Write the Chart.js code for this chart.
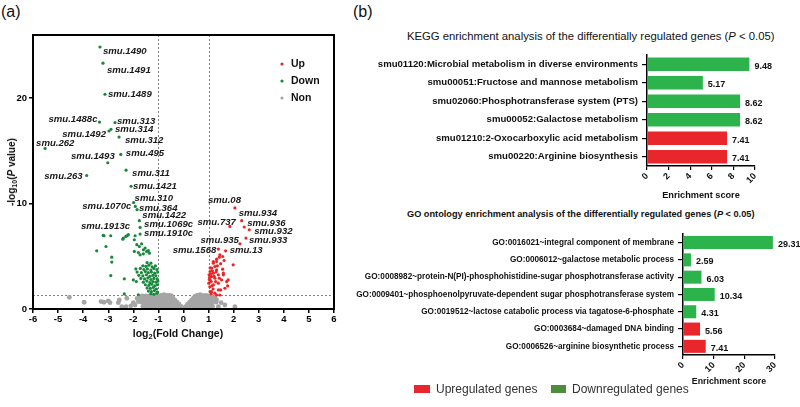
<!DOCTYPE html>
<html>
<head>
<meta charset="utf-8">
<script src="https://cdn.jsdelivr.net/npm/chart.js@4.4.1/dist/chart.umd.min.js"></script>
<style>
body { margin: 0; background: #fff; width: 800px; height: 407px; position: relative; overflow: hidden; font-family: "Liberation Sans", Arial, sans-serif; color: #111; }
canvas { position: absolute; }
.t { position: absolute; white-space: nowrap; line-height: 1; }
.t sub { font-size: 70%; vertical-align: -2px; line-height: 0; }
.box { position: absolute; width: 16px; height: 8px; }
</style>
</head>
<body>
<div class="t" style="left:1px;top:4px;font-size:16px">(a)</div>
<div class="t" style="left:353px;top:4px;font-size:16px">(b)</div>

<canvas id="volcano" width="345" height="345" style="left:0;top:0"></canvas>
<div class="t" style="left:12px;top:172px;font-size:10px;font-weight:bold;transform:translate(-50%,-50%) rotate(-90deg)">-log<sub>10</sub>(<i>P</i> value)</div>
<div class="t" style="left:178px;top:333px;font-size:10.5px;font-weight:bold;transform:translate(-50%,-50%)">log<sub>2</sub>(Fold Change)</div>

<div class="t" style="left:407px;top:31px;font-size:11.3px">KEGG enrichment analysis of the differentially regulated genes (<i>P</i> &lt; 0.05)</div>
<canvas id="kegg" width="440" height="160" style="left:360px;top:45px"></canvas>

<div class="t" style="left:407px;top:210px;font-size:9.2px;font-weight:bold">GO ontology enrichment analysis of the differentially regulated genes (<i>P</i> &lt; 0.05)</div>
<canvas id="go" width="460" height="166" style="left:340px;top:225px"></canvas>

<div class="box" style="left:414px;top:385px;background:#e8262c"></div>
<div class="t" style="left:436px;top:383px;font-size:12px;color:#333">Upregulated genes</div>
<div class="box" style="left:551px;top:385px;width:15px;background:#4e8d3c"></div>
<div class="t" style="left:572px;top:383px;font-size:12px;color:#333">Downregulated genes</div>

<script>
// ---- volcano plot data ----
const genes = ['smu.1490', 'smu.1491', 'smu.1489', 'smu.1488c', 'smu.313', 'smu.1492', 'smu.314', 'smu.312',
    'smu.262', 'smu.495', 'smu.1493', 'smu.263', 'smu.311', 'smu.1421', 'smu.310', 'smu.1070c', 'smu.364',
    'smu.1422', 'smu.1069c', 'smu.1913c', 'smu.1910c',
    'smu.08', 'smu.934', 'smu.737', 'smu.936', 'smu.932', 'smu.933', 'smu.935', 'smu.1568', 'smu.13'];
const geneFC = [-3.33, -3.21, -3.13, -3.35, -2.73, -2.97, -2.89, -2.57, -5.52, -2.50, -3.02, -3.86, -2.29, -2.09,
    -1.99, -1.92, -1.85, -1.76, -1.73, -2.25, -1.73,
    2.05, 2.32, 1.85, 2.42, 2.62, 2.49, 2.25, 1.39, 1.68];
const geneLogP = [24.86, 23.33, 20.38, 17.74, 17.69, 16.89, 17.05, 16.31, 15.24, 14.67, 13.88, 12.67, 13.17, 11.65,
    10.10, 9.73, 9.43, 8.38, 7.74, 6.95, 7.11,
    9.59, 8.38, 7.84, 7.78, 7.52, 6.73, 6.19, 5.69, 5.52];

const downPoints = [
    [-3.17, 6.95], [-2.90, 6.95], [-2.40, 6.73], [-2.30, 6.89], [-3.46, 5.52], [-3.09, 5.93], [-2.86, 4.92],
    [-2.86, 4.45], [-2.90, 3.17], [-2.36, 2.86], [-2.00, 2.76], [-2.36, 1.43], [-1.80, 1.35], [-3.20, 6.98],
    [-2.42, 6.63], [-2.20, 7.05], [-1.93, 6.95],
    [-1.96, 6.57], [-1.86, 6.10], [-1.76, 5.93], [-1.67, 6.19], [-1.60, 5.62], [-1.53, 5.78], [-1.47, 5.46],
    [-1.40, 5.55], [-1.36, 5.30], [-1.73, 5.14], [-1.60, 5.24], [-1.96, 5.46], [-1.80, 5.36],
    [-1.45, 4.4], [-1.3, 4.35],
    [-1.62, 4.1], [-1.5, 4.05], [-1.38, 4.15], [-1.25, 4.0], [-1.12, 4.1],
    [-1.9, 3.8], [-1.72, 3.85], [-1.58, 3.75], [-1.44, 3.8], [-1.3, 3.7], [-1.18, 3.85], [-1.06, 3.75],
    [-1.85, 3.5], [-1.68, 3.45], [-1.52, 3.55], [-1.4, 3.45], [-1.28, 3.5], [-1.15, 3.4], [-1.03, 3.5],
    [-1.78, 3.2], [-1.62, 3.15], [-1.48, 3.25], [-1.34, 3.1], [-1.22, 3.2], [-1.1, 3.15],
    [-1.7, 2.9], [-1.55, 2.85], [-1.42, 2.95], [-1.3, 2.8], [-1.18, 2.9], [-1.05, 2.85],
    [-1.88, 2.6], [-1.6, 2.55], [-1.46, 2.65], [-1.34, 2.5], [-1.22, 2.6], [-1.1, 2.55], [-1.02, 2.65],
    [-1.52, 2.3], [-1.38, 2.25], [-1.26, 2.35], [-1.14, 2.2], [-1.04, 2.3],
    [-1.45, 2.0], [-1.32, 1.95], [-1.2, 2.05], [-1.08, 1.9],
    [-1.4, 1.7], [-1.28, 1.65], [-1.16, 1.75], [-1.04, 1.6],
    [-1.3, 1.45], [-1.18, 1.4], [-1.06, 1.5]
];

const upPoints = [
    [1.45, 5.14], [1.32, 4.5], [1.19, 4.35], [1.25, 4.03], [1.12, 3.87], [1.32, 3.71], [1.06, 3.56], [1.19, 3.40],
    [1.39, 3.24], [1.02, 3.24], [1.12, 3.08], [1.25, 2.92], [1.06, 2.76], [1.01, 2.45], [1.19, 2.29], [1.39, 2.45],
    [1.52, 2.76], [1.59, 3.40], [1.98, 4.19], [1.65, 1.97], [1.39, 1.81], [1.12, 1.65], [1.25, 1.50], [1.72, 2.60],
    [1.45, 1.33], [1.19, 4.5], [1.32, 4.73], [1.43, 4.92], [1.56, 4.98], [1.56, 3.78], [1.78, 2.76], [1.76, 2.19],
    [1.48, 1.81], [1.06, 1.65], [1.32, 1.33], [1.43, 2.92], [1.59, 3.24],
    [1.04, 3.0], [1.08, 3.3], [1.1, 2.6], [1.15, 3.6], [1.03, 2.8], [1.06, 3.9], [1.14, 2.2], [1.22, 3.1],
    [1.3, 3.5], [1.28, 2.6], [1.05, 2.1], [1.18, 1.9], [1.35, 4.1], [1.48, 4.3], [1.62, 4.6], [1.1, 1.45]
];

const nonPoints = [
    [-1.65, 1.25], [-1.5, 1.25], [-1.35, 1.25], [-1.2, 1.25], [-1.05, 1.25], [-0.9, 1.3], [-0.78, 1.35], [-0.66, 1.3],
    [-0.55, 1.3], [-0.48, 1.25], [0.48, 1.25], [0.56, 1.3], [0.66, 1.35], [0.78, 1.3], [0.9, 1.3], [0.98, 1.25], [1.1, 1.2],
    [-1.72, 1.05], [-1.58, 1.05], [-1.44, 1.05], [-1.3, 1.05], [-1.16, 1.05], [-1.02, 1.05], [-0.88, 1.05],
    [-0.76, 1.05], [-0.64, 1.05], [-0.52, 1.05], [-0.42, 1.05], [0.4, 1.05], [0.5, 1.05], [0.62, 1.05],
    [0.74, 1.05], [0.86, 1.05], [0.96, 1.05], [1.08, 1.05], [1.2, 1.0],
    [-1.6, 0.85], [-1.46, 0.85], [-1.32, 0.85], [-1.18, 0.85], [-1.04, 0.85], [-0.92, 0.85], [-0.8, 0.85],
    [-0.68, 0.85], [-0.56, 0.85], [-0.44, 0.85], [-0.34, 0.85], [0.32, 0.85], [0.42, 0.85], [0.54, 0.85],
    [0.66, 0.85], [0.78, 0.85], [0.9, 0.85], [1.02, 0.85], [1.14, 0.85],
    [-1.68, 0.65], [-1.52, 0.65], [-1.38, 0.65], [-1.24, 0.65], [-1.1, 0.65], [-0.96, 0.65], [-0.84, 0.65],
    [-0.72, 0.65], [-0.6, 0.65], [-0.48, 0.65], [-0.36, 0.65], [-0.26, 0.65], [0.24, 0.65], [0.34, 0.65],
    [0.46, 0.65], [0.58, 0.65], [0.7, 0.65], [0.82, 0.65], [0.94, 0.65], [1.06, 0.65], [1.3, 0.65],
    [-1.55, 0.45], [-1.4, 0.45], [-1.26, 0.45], [-1.12, 0.45], [-0.98, 0.45], [-0.86, 0.45], [-0.74, 0.45],
    [-0.62, 0.45], [-0.5, 0.45], [-0.38, 0.45], [-0.28, 0.45], [-0.18, 0.45], [0.16, 0.45], [0.26, 0.45],
    [0.36, 0.45], [0.48, 0.45], [0.6, 0.45], [0.72, 0.45], [0.84, 0.45], [0.96, 0.45], [1.1, 0.45],
    [-1.62, 0.25], [-1.46, 0.25], [-1.3, 0.25], [-1.16, 0.25], [-1.02, 0.25], [-0.9, 0.25], [-0.78, 0.25],
    [-0.66, 0.25], [-0.54, 0.25], [-0.42, 0.25], [-0.3, 0.25], [-0.2, 0.25], [-0.1, 0.25], [0.08, 0.22],
    [0.18, 0.25], [0.28, 0.25], [0.4, 0.25], [0.52, 0.25], [0.64, 0.25], [0.76, 0.25], [0.88, 0.25],
    [1.0, 0.25], [1.16, 0.25],
    [-1.5, 0.08], [-1.3, 0.08], [-1.1, 0.08], [-0.95, 0.08], [-0.8, 0.08], [-0.65, 0.08], [-0.5, 0.08],
    [-0.35, 0.08], [-0.2, 0.08], [-0.05, 0.08], [0.03, 0.06], [0.12, 0.08], [0.26, 0.08], [0.4, 0.08],
    [0.55, 0.08], [0.7, 0.08], [0.85, 0.08], [1.0, 0.08],
    [-4.55, 1.11], [-3.96, 0.64], [-3.29, 0.70], [-3.17, 0.64], [-3.0, 0.76], [-2.93, 0.6], [-2.56, 0.86],
    [-2.6, 0.6], [-2.29, 0.22], [-2.0, 0.6], [-1.93, 0.38], [-2.46, 0.22], [-1.8, 0.7], [-2.26, 1.02],
    [-2.1, 0.3], [-1.85, 1.0], [1.39, 0.22], [1.32, 0.86], [1.65, 0.38], [2.05, 0.22], [1.19, 0.7],
    [1.06, 0.5], [1.5, 0.6], [1.25, 1.1]
];

const xTicks = [-6, -5, -4, -3, -2, -1, 0, 1, 2, 3, 4, 5, 6];
const yTicks = [0, 10, 20];
const fcCut = 1;
const pCut = 0.05;

// label offsets from the dot (px): dx, dy, alignment
const labelOffsets = [
    [3, 4, 'left'], [4, 7, 'left'], [3, 0, 'left'], [-2, -3, 'right'], [2, -1, 'left'], [-3, 3, 'right'],
    [4, 0, 'left'], [6, 3, 'left'], [-9, -5, 'left'], [5, -1, 'left'], [7, -6, 'right'], [-4, 1, 'right'],
    [6, 3, 'left'], [2, 0, 'left'], [1, -4, 'left'], [-4, 0, 'right'], [2, -1, 'left'], [3, -5, 'left'],
    [4, -3, 'left'], [3, -9, 'right'], [4, -1, 'left'],
    [-27, -8, 'left'], [-3, -7, 'left'], [6, -4, 'right'], [3, -4, 'left'], [5, 2, 'left'], [3, 2, 'left'],
    [-1, -3, 'right'], [-2, 1, 'right'], [4, 0, 'left']
];

// ---- enrichment data ----
const keggTerms = ['smu01120:Microbial metabolism in diverse environments', 'smu00051:Fructose and mannose metabolism',
    'smu02060:Phosphotransferase system (PTS)', 'smu00052:Galactose metabolism',
    'smu01210:2-Oxocarboxylic acid metabolism', 'smu00220:Arginine biosynthesis'];
const keggScores = [9.48, 5.17, 8.62, 8.62, 7.41, 7.41];
const keggReg = ['down', 'down', 'down', 'down', 'up', 'up'];

const goTerms = ['GO:0016021~integral component of membrane', 'GO:0006012~galactose metabolic process',
    'GO:0008982~protein-N(PI)-phosphohistidine-sugar phosphotransferase activity',
    'GO:0009401~phosphoenolpyruvate-dependent sugar phosphotransferase system',
    'GO:0019512~lactose catabolic process via tagatose-6-phosphate', 'GO:0003684~damaged DNA binding',
    'GO:0006526~arginine biosynthetic process'];
const goScores = [29.31, 2.59, 6.03, 10.34, 4.31, 5.56, 7.41];
const goReg = ['down', 'down', 'down', 'down', 'down', 'up', 'up'];

const RED = '#ee2426';
const GREEN = '#17883c';
const GRAY = '#a5a5a5';
const barColor = { up: '#e8262c', down: '#2db34b' };

Chart.defaults.font.family = '"Liberation Sans", Arial, sans-serif';
Chart.defaults.color = '#111';

const toXY = (p) => ({ x: p[0], y: p[1] });
const upAll = upPoints.map(toXY);
const downAll = downPoints.map(toXY);
genes.forEach((g, i) => {
    const pt = { x: geneFC[i], y: geneLogP[i] };
    if (geneFC[i] > 0) upAll.push(pt); else downAll.push(pt);
});

const volcanoExtras = {
    id: 'volcanoExtras',
    beforeDatasetsDraw(chart) {
        const { ctx, chartArea: a, scales: { x, y } } = chart;
        ctx.save();
        ctx.setLineDash([2, 2]);
        ctx.strokeStyle = '#808080';
        ctx.lineWidth = 1;
        [-fcCut, fcCut].forEach((v) => {
            const px = Math.round(x.getPixelForValue(v)) + 0.5;
            ctx.beginPath(); ctx.moveTo(px, a.top); ctx.lineTo(px, a.bottom); ctx.stroke();
        });
        const py = Math.round(y.getPixelForValue(-Math.log10(pCut))) + 0.5;
        ctx.beginPath(); ctx.moveTo(a.left, py); ctx.lineTo(a.right, py); ctx.stroke();
        ctx.restore();
    },
    afterDatasetsDraw(chart) {
        const { ctx, chartArea: a, scales: { x, y } } = chart;
        ctx.save();
        ctx.strokeStyle = '#000';
        ctx.lineWidth = 2;
        ctx.strokeRect(a.left, a.top, a.right - a.left, a.bottom - a.top);

        ctx.font = 'italic bold 9.6px "Liberation Sans", Arial, sans-serif';
        ctx.fillStyle = '#1a1a1a';
        ctx.textBaseline = 'middle';
        genes.forEach((g, i) => {
            const o = labelOffsets[i];
            ctx.textAlign = o[2];
            ctx.fillText(g, x.getPixelForValue(geneFC[i]) + o[0], y.getPixelForValue(geneLogP[i]) + o[1]);
        });

        // legend inside plot
        const items = [['Up', RED], ['Down', GREEN], ['Non', GRAY]];
        ctx.font = 'bold 10.5px "Liberation Sans", Arial, sans-serif';
        ctx.textAlign = 'left';
        items.forEach((it, i) => {
            const ly = 64 + i * 17;
            ctx.fillStyle = it[1];
            ctx.beginPath(); ctx.arc(282, ly, 1.6, 0, Math.PI * 2); ctx.fill();
            ctx.fillStyle = '#111';
            ctx.fillText(it[0], 291, ly);
        });
        ctx.restore();
    }
};

new Chart(document.getElementById('volcano'), {
    type: 'scatter',
    data: {
        datasets: [
            { label: 'Up', data: upAll, backgroundColor: RED, pointRadius: 1.6, borderWidth: 0 },
            { label: 'Down', data: downAll, backgroundColor: GREEN, pointRadius: 1.6, borderWidth: 0 },
            { label: 'Non', data: nonPoints.map(toXY), backgroundColor: GRAY, pointRadius: 2.4, borderWidth: 0 }
        ]
    },
    options: {
        responsive: false,
        animation: false,
        layout: { padding: { top: 35, right: 11, left: 0, bottom: 0 } },
        plugins: { legend: { display: false }, tooltip: { enabled: false } },
        scales: {
            x: {
                type: 'linear', min: -6, max: 6,
                afterBuildTicks: (s) => { s.ticks = xTicks.map((v) => ({ value: v })); },
                afterFit: (s) => { s.height = 36; },
                ticks: { color: '#000', font: { size: 9.5, weight: 'bold' }, padding: 1 },
                grid: { drawOnChartArea: false, tickLength: 4, color: '#000', lineWidth: 1.5 },
                border: { color: '#000', width: 2 }
            },
            y: {
                type: 'linear', min: 0, max: 26,
                afterBuildTicks: (s) => { s.ticks = yTicks.map((v) => ({ value: v })); },
                afterFit: (s) => { s.width = 33; },
                ticks: { color: '#000', font: { size: 9.5, weight: 'bold' }, padding: 2 },
                grid: { drawOnChartArea: false, tickLength: 4, color: '#000', lineWidth: 1.5 },
                border: { color: '#000', width: 2 }
            }
        }
    },
    plugins: [volcanoExtras]
});

// ---- enrichment bar charts ----
const valueLabels = {
    id: 'valueLabels',
    afterDatasetsDraw(chart) {
        const { ctx } = chart;
        const meta = chart.getDatasetMeta(0);
        ctx.save();
        ctx.font = 'bold 9px "Liberation Sans", Arial, sans-serif';
        ctx.fillStyle = '#111';
        ctx.textAlign = 'left';
        ctx.textBaseline = 'middle';
        meta.data.forEach((bar, i) => {
            ctx.fillText(chart.data.datasets[0].data[i].toFixed(2), bar.x + 5, bar.y + 2);
        });
        ctx.restore();
    }
};

function enrichChart(id, terms, scores, reg, o) {
    return new Chart(document.getElementById(id), {
        type: 'bar',
        data: {
            labels: terms,
            datasets: [{
                data: scores,
                backgroundColor: reg.map((r) => barColor[r]),
                borderWidth: 0,
                barPercentage: o.barPct,
                categoryPercentage: 0.8
            }]
        },
        options: {
            indexAxis: 'y',
            responsive: false,
            animation: false,
            layout: { padding: { top: o.top, right: o.right, left: 0, bottom: 0 } },
            plugins: { legend: { display: false }, tooltip: { enabled: false } },
            scales: {
                x: {
                    min: 0, max: o.max,
                    afterFit: (s) => { s.height = o.xHeight; },
                    ticks: { stepSize: o.step, minRotation: 45, maxRotation: 45, color: '#111',
                        font: { size: 9, weight: 'bold' }, padding: 1 },
                    grid: { drawOnChartArea: false, tickLength: 4, color: '#000', lineWidth: 1.2 },
                    border: { color: '#000', width: 1.5 },
                    title: { display: true, text: 'Enrichment score', color: '#111',
                        font: { size: o.titleSize, weight: 'bold' }, padding: { top: 2, bottom: 4 } }
                },
                y: {
                    afterFit: (s) => { s.width = o.yWidth; },
                    ticks: { color: '#111', font: { size: o.labelSize, weight: 'bold' }, padding: 4, autoSkip: false },
                    grid: { drawOnChartArea: false, offset: false, tickLength: 5, color: '#000', lineWidth: 1.2 },
                    border: { color: '#000', width: 1.5 }
                }
            }
        },
        plugins: [valueLabels]
    });
}

enrichChart('kegg', keggTerms, keggScores, keggReg,
    { max: 10, step: 2, top: 10, right: 45, xHeight: 39, yWidth: 287, labelSize: 9.6, titleSize: 9.2, barPct: 0.9 });
enrichChart('go', goTerms, goScores, goReg,
    { max: 30, step: 10, top: 8, right: 25, xHeight: 36, yWidth: 343, labelSize: 8.2, titleSize: 8.8, barPct: 0.94 });
</script>
</body>
</html>
